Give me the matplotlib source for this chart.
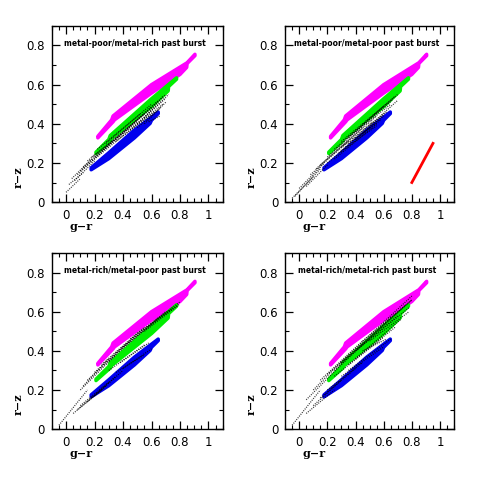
import matplotlib
matplotlib.use("Agg")
import matplotlib.pyplot as plt
from matplotlib.ticker import MultipleLocator

# panel titles
titles = ["metal-poor/metal-rich past burst",
          "metal-poor/metal-poor past burst",
          "metal-rich/metal-poor past burst",
          "metal-rich/metal-rich past burst"]

# coloured model ribbons (g-r, r-z), lower and upper edge, same in every panel
magenta_lo_x = [0.223, 0.33, 0.34, 0.60, 0.80, 0.847, 0.85, 0.905]
magenta_lo_y = [0.328, 0.41, 0.42, 0.557, 0.652, 0.688, 0.708, 0.748]
magenta_hi_x = [0.223, 0.32, 0.33, 0.60, 0.85, 0.905]
magenta_hi_y = [0.336, 0.42, 0.44, 0.60, 0.712, 0.755]

green_lo_x = [0.21, 0.31, 0.32, 0.60, 0.717, 0.72, 0.776]
green_lo_y = [0.248, 0.312, 0.325, 0.488, 0.568, 0.59, 0.628]
green_hi_x = [0.21, 0.30, 0.31, 0.60, 0.776]
green_hi_y = [0.255, 0.32, 0.34, 0.528, 0.635]

blue_lo_x = [0.176, 0.30, 0.48, 0.59, 0.60, 0.647]
blue_lo_y = [0.165, 0.222, 0.328, 0.402, 0.418, 0.452]
blue_hi_x = [0.176, 0.30, 0.48, 0.647]
blue_hi_y = [0.175, 0.252, 0.368, 0.46]

# black dotted model tracks per panel: x0, y0, x1, y1
black_tracks = [
    [(0.00, 0.05, 0.10, 0.12), (0.02, 0.09, 0.12, 0.15), (0.06, 0.11, 0.20, 0.21),
     (0.04, 0.12, 0.18, 0.22), (0.08, 0.14, 0.30, 0.29), (0.10, 0.16, 0.40, 0.34),
     (0.12, 0.18, 0.45, 0.38), (0.15, 0.21, 0.55, 0.45), (0.18, 0.23, 0.50, 0.41),
     (0.20, 0.23, 0.60, 0.48), (0.25, 0.26, 0.65, 0.52), (0.30, 0.29, 0.70, 0.55),
     (0.35, 0.31, 0.62, 0.46), (0.40, 0.34, 0.68, 0.50), (0.45, 0.37, 0.70, 0.53),
     (0.50, 0.38, 0.66, 0.48), (0.55, 0.40, 0.70, 0.51), (0.50, 0.40, 0.72, 0.55),
     (0.55, 0.43, 0.68, 0.54), (0.58, 0.41, 0.66, 0.44), (0.22, 0.27, 0.52, 0.45),
     (0.28, 0.30, 0.60, 0.50)],
    [(-0.05, 0.02, 0.10, 0.13), (-0.03, 0.03, 0.15, 0.17), (0.05, 0.08, 0.20, 0.19),
     (0.00, 0.07, 0.18, 0.20), (0.08, 0.14, 0.35, 0.31), (0.12, 0.17, 0.45, 0.38),
     (0.15, 0.19, 0.55, 0.44), (0.20, 0.23, 0.60, 0.49), (0.25, 0.27, 0.68, 0.54),
     (0.30, 0.28, 0.60, 0.45), (0.35, 0.30, 0.58, 0.42), (0.40, 0.32, 0.62, 0.46),
     (0.30, 0.31, 0.70, 0.55), (0.45, 0.35, 0.60, 0.44), (0.50, 0.39, 0.70, 0.52),
     (0.20, 0.20, 0.50, 0.38), (0.25, 0.22, 0.55, 0.40), (0.35, 0.33, 0.65, 0.50),
     (0.40, 0.36, 0.66, 0.52), (0.28, 0.25, 0.52, 0.41), (0.30, 0.26, 0.55, 0.39)],
    [(-0.05, 0.02, 0.15, 0.20), (0.05, 0.08, 0.25, 0.20), (0.10, 0.12, 0.30, 0.24),
     (0.08, 0.10, 0.28, 0.22), (0.10, 0.20, 0.35, 0.38), (0.15, 0.25, 0.45, 0.45),
     (0.20, 0.29, 0.55, 0.52), (0.30, 0.35, 0.65, 0.57), (0.40, 0.42, 0.75, 0.62),
     (0.45, 0.46, 0.80, 0.65), (0.30, 0.30, 0.55, 0.43), (0.35, 0.29, 0.55, 0.38),
     (0.40, 0.31, 0.60, 0.41), (0.20, 0.17, 0.40, 0.30), (0.50, 0.49, 0.78, 0.63),
     (0.12, 0.22, 0.30, 0.36), (0.25, 0.33, 0.50, 0.49), (0.35, 0.39, 0.70, 0.60),
     (0.15, 0.14, 0.35, 0.27), (0.38, 0.34, 0.58, 0.44), (0.55, 0.50, 0.80, 0.64)],
    [(-0.05, 0.02, 0.15, 0.20), (0.05, 0.08, 0.25, 0.20), (0.10, 0.12, 0.30, 0.25),
     (0.05, 0.15, 0.30, 0.33), (0.15, 0.25, 0.45, 0.45), (0.20, 0.28, 0.55, 0.50),
     (0.25, 0.30, 0.65, 0.57), (0.30, 0.33, 0.75, 0.63), (0.35, 0.38, 0.80, 0.68),
     (0.25, 0.27, 0.60, 0.47), (0.30, 0.27, 0.60, 0.42), (0.35, 0.30, 0.65, 0.46),
     (0.20, 0.20, 0.45, 0.34), (0.40, 0.40, 0.78, 0.62), (0.45, 0.45, 0.80, 0.66),
     (0.30, 0.34, 0.70, 0.58), (0.10, 0.20, 0.35, 0.38), (0.15, 0.16, 0.40, 0.31),
     (0.40, 0.36, 0.72, 0.56), (0.50, 0.45, 0.78, 0.60), (0.35, 0.33, 0.68, 0.52),
     (0.45, 0.40, 0.62, 0.46), (0.55, 0.50, 0.80, 0.66)],
]

# reddening vector (top right panel only)
red_x = [0.80, 0.95]
red_y = [0.10, 0.30]

positions = [[0.108, 0.579, 0.356, 0.367], [0.594, 0.579, 0.352, 0.367],
             [0.108, 0.106, 0.356, 0.367], [0.594, 0.106, 0.352, 0.367]]


def ribbon(ax, lo_x, lo_y, hi_x, hi_y, color):
    xs = lo_x + hi_x[::-1]
    ys = lo_y + hi_y[::-1]
    ax.fill(xs, ys, facecolor=color, edgecolor=color, lw=2.5,
            joinstyle='round', zorder=2)


def style_axes(ax):
    ax.set_xlim(-0.1, 1.1)
    ax.set_ylim(0, 0.9)
    ax.xaxis.set_minor_locator(MultipleLocator(0.05))
    ax.yaxis.set_minor_locator(MultipleLocator(0.1))
    ax.set_xticks([0, 0.2, 0.4, 0.6, 0.8, 1.0])
    ax.set_xticklabels(['0', '0.2', '0.4', '0.6', '0.8', '1'])
    ax.set_yticks([0, 0.2, 0.4, 0.6, 0.8])
    ax.set_yticklabels(['0', '0.2', '0.4', '0.6', '0.8'])
    ax.tick_params(which='both', direction='in', top=True, right=True,
                   labelsize=8.5, pad=5)
    ax.tick_params(which='major', length=6, width=0.9)
    ax.tick_params(which='minor', length=3, width=0.8)
    for s in ax.spines.values():
        s.set_linewidth(1.0)


fig = plt.figure(figsize=(4.8, 4.8), dpi=100)

for i in range(4):
    ax = fig.add_axes(positions[i])
    style_axes(ax)
    ribbon(ax, magenta_lo_x, magenta_lo_y, magenta_hi_x, magenta_hi_y, '#ff00ff')
    ribbon(ax, green_lo_x, green_lo_y, green_hi_x, green_hi_y, '#00ee00')
    ribbon(ax, blue_lo_x, blue_lo_y, blue_hi_x, blue_hi_y, '#0000ee')
    for (x0, y0, x1, y1) in black_tracks[i]:
        ax.plot([x0, x1], [y0, y1], color='black', lw=0.9, ls=(0, (0.8, 1.0)),
                alpha=0.8, zorder=3)
    if i == 1:
        ax.plot(red_x, red_y, color='red', lw=2, zorder=3)
    ax.text(0.485, 0.90, titles[i], transform=ax.transAxes, ha='center',
            va='center', fontsize=5.5, fontweight='bold')
    ax.text(0.17, -0.14, 'g\u2212r', transform=ax.transAxes, ha='center',
            va='center', fontsize=8, family='DejaVu Serif', fontweight='bold')
    ax.text(-0.20, 0.14, 'r\u2212z', transform=ax.transAxes, ha='center',
            va='center', fontsize=8, family='DejaVu Serif', fontweight='bold',
            rotation=90)

fig.savefig('out.png', dpi=100)
